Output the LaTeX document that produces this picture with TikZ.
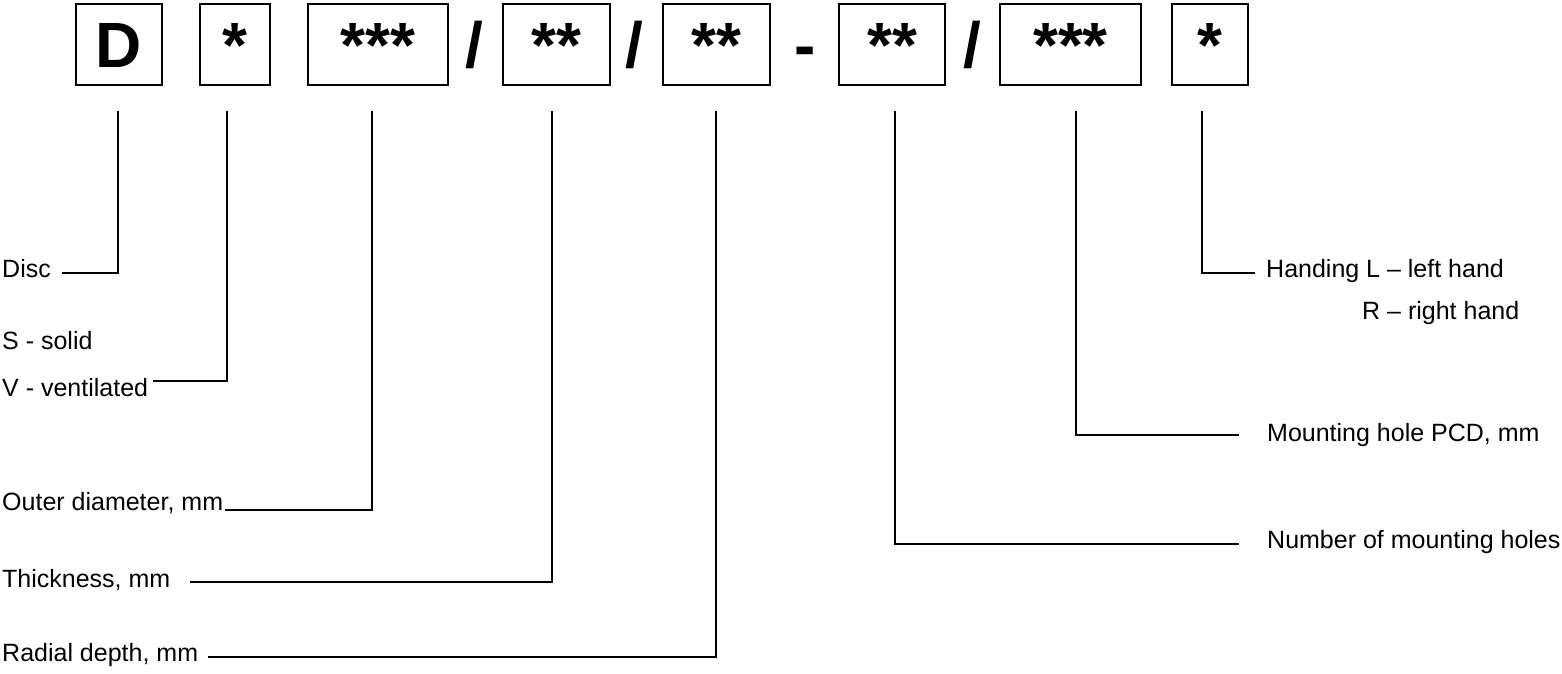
\documentclass[tikz,border=0pt]{standalone}
\usepackage{fontspec}
\setmainfont{Liberation Sans}
\newcommand{\codefont}{\fontsize{64}{70}\selectfont\bfseries}
\newcommand{\lblfont}{\fontsize{25}{30}\selectfont}
\tikzset{
  codebox/.style={draw, line width=1.6pt, minimum height=81.5pt, inner sep=0pt,
    font=\codefont, text height=46pt, text depth=0pt},
  codesym/.style={inner sep=0pt, font=\codefont, text height=46pt, text depth=0pt},
  lbl/.style={inner sep=0pt, font=\lblfont, anchor=base west},
  lead/.style={line width=1.2pt},
}
\begin{document}
\begin{tikzpicture}[x=1pt, y=-1pt]
      \useasboundingbox (0,0) rectangle (1562,673);
      \node[codebox, minimum width=86pt] (d) at (119,44.5) {D};
      \node[codebox, minimum width=70pt] (type) at (235,44.5) {*};
      \node[codebox, minimum width=140pt] (od) at (378,44.5) {***};
      \node[codesym] (sl1) at (474,44.5) {/};
      \node[codebox, minimum width=107pt] (thick) at (556.5,44.5) {**};
      \node[codesym] (sl2) at (634,44.5) {/};
      \node[codebox, minimum width=107pt] (depth) at (716.5,44.5) {**};
      \node[codesym] (dash) at (805,44.5) {-};
      \node[codebox, minimum width=106pt] (holes) at (892,44.5) {**};
      \node[codesym] (sl3) at (972,44.5) {/};
      \node[codebox, minimum width=141pt] (pcd) at (1070.5,44.5) {***};
      \node[codebox, minimum width=76pt] (hand) at (1210,44.5) {*};
      \coordinate (d-top) at (118,111);
      \coordinate (type-top) at (227,111);
      \coordinate (od-top) at (372,111);
      \coordinate (thick-top) at (552,111);
      \coordinate (depth-top) at (716,111);
      \coordinate (holes-top) at (895,111);
      \coordinate (pcd-top) at (1076,111);
      \coordinate (hand-top) at (1202,111);
      \node[lbl] (disc) at (2,277) {Disc};
      \node[lbl] (solid) at (2,349) {S - solid};
      \node[lbl] (vent) at (2,396) {V - ventilated};
      \node[lbl] (outer) at (2,510) {Outer diameter, mm};
      \node[lbl] (thk) at (2,587) {Thickness, mm};
      \node[lbl] (radial) at (2,661) {Radial depth, mm};
      \node[lbl] (handing) at (1266,277) {Handing L – left hand};
      \node[lbl] (right) at (1362,319) {R – right hand};
      \node[lbl] (mount) at (1267,441) {Mounting hole PCD, mm};
      \node[lbl] (number) at (1267,548) {Number of mounting holes};
      \begin{scope}[lead]
        \draw (d-top) |- ([xshift=11pt,yshift=4pt]disc.base east);
        \draw (type-top) |- ([xshift=5pt,yshift=15pt]vent.base east);
        \draw (od-top) |- ([xshift=2pt]outer.base east);
        \draw (thick-top) |- ([xshift=20pt,yshift=5pt]thk.base east);
        \draw (depth-top) |- ([xshift=10pt,yshift=4pt]radial.base east);
        \draw (hand-top) |- ([xshift=-11pt,yshift=4pt]handing.base west);
        \draw (pcd-top) |- ([xshift=-28pt,yshift=6pt]mount.base west);
        \draw (holes-top) |- ([xshift=-28pt,yshift=4pt]number.base west);
      \end{scope}
    \end{tikzpicture}
\end{document}
